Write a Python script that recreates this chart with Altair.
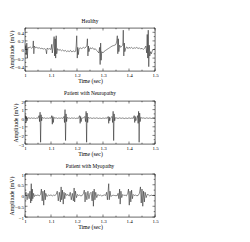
import altair as alt
import pandas as pd

# ---------------- data ----------------
healthy_t = [1.000, 1.003, 1.005, 1.007, 1.009, 1.011, 1.015, 1.020, 1.025, 1.030,
             1.032, 1.034, 1.036, 1.040, 1.045, 1.050, 1.055, 1.060, 1.065, 1.070,
             1.075, 1.080, 1.083, 1.085, 1.090, 1.095, 1.100, 1.103, 1.105, 1.108,
             1.112, 1.114, 1.116, 1.118, 1.120, 1.122, 1.125, 1.130, 1.135, 1.140,
             1.145, 1.150, 1.155, 1.160, 1.165, 1.170, 1.175, 1.180, 1.185, 1.190,
             1.195, 1.197, 1.199, 1.201, 1.203, 1.205, 1.208, 1.212, 1.218, 1.225,
             1.230, 1.235, 1.238, 1.240, 1.242, 1.244, 1.246, 1.250, 1.255, 1.260,
             1.265, 1.270, 1.275, 1.280, 1.284, 1.287, 1.289, 1.291, 1.293, 1.295,
             1.300, 1.305, 1.310, 1.315, 1.320, 1.325, 1.330, 1.335, 1.340, 1.345,
             1.350, 1.353, 1.355, 1.357, 1.359, 1.361, 1.364, 1.368, 1.372, 1.376,
             1.378, 1.380, 1.382, 1.384, 1.388, 1.392, 1.396, 1.400, 1.405, 1.410,
             1.415, 1.420, 1.425, 1.430, 1.435, 1.440, 1.445, 1.450, 1.455, 1.460,
             1.465, 1.468, 1.470, 1.472, 1.474, 1.476, 1.478, 1.480, 1.483, 1.486,
             1.490, 1.495, 1.500]
healthy_v = [0.00, 0.08, -0.12, 0.15, -0.20, 0.05, 0.04, 0.06, 0.03, 0.05,
             0.20, -0.10, 0.08, 0.04, 0.05, 0.03, 0.04, 0.02, 0.03, 0.01,
             0.02, 0.00, -0.10, 0.03, 0.01, 0.02, 0.00, 0.12, -0.08, 0.05,
             0.30, -0.15, 0.25, -0.20, 0.32, -0.10, 0.02, -0.02, 0.00, -0.03,
             -0.01, -0.04, -0.02, -0.05, -0.03, -0.05, -0.02, -0.06, -0.03, -0.05,
             -0.04, 0.10, 0.32, -0.20, 0.05, -0.12, 0.02, 0.04, 0.02, 0.05,
             0.03, 0.06, 0.10, 0.25, -0.15, 0.08, -0.05, 0.04, 0.02, 0.04,
             0.00, 0.02, -0.02, -0.05, -0.08, 0.05, -0.35, 0.15, -0.25, -0.05,
             -0.08, -0.04, -0.02, 0.00, 0.02, 0.04, 0.06, 0.08, 0.09, 0.10,
             0.12, 0.20, 0.32, -0.10, 0.25, -0.05, 0.10, 0.05, 0.08, 0.10,
             0.45, -0.15, 0.15, -0.05, 0.04, 0.06, 0.02, 0.05, 0.03, 0.05,
             0.02, 0.04, 0.03, 0.05, 0.02, 0.04, 0.01, 0.03, 0.00, 0.03,
             0.08, -0.08, 0.35, -0.20, 0.45, -0.40, 0.10, -0.15, -0.05, -0.10,
             -0.02, 0.00, 0.01]

neuro_t = [1.000, 1.002, 1.004, 1.006, 1.008, 1.010, 1.015, 1.020, 1.025, 1.030,
           1.035, 1.040, 1.045, 1.050, 1.054, 1.056, 1.058, 1.060, 1.062, 1.064,
           1.066, 1.070, 1.075, 1.080, 1.085, 1.090, 1.095, 1.100, 1.103, 1.105,
           1.107, 1.109, 1.111, 1.115, 1.120, 1.125, 1.130, 1.135, 1.140, 1.145,
           1.150, 1.152, 1.154, 1.156, 1.158, 1.160, 1.162, 1.166, 1.170, 1.175,
           1.180, 1.185, 1.190, 1.195, 1.200, 1.205, 1.210, 1.212, 1.214, 1.216,
           1.218, 1.225, 1.230, 1.233, 1.235, 1.237, 1.239, 1.241, 1.243, 1.247,
           1.252, 1.258, 1.264, 1.270, 1.276, 1.282, 1.288, 1.294, 1.300, 1.306,
           1.312, 1.316, 1.320, 1.322, 1.324, 1.326, 1.328, 1.335, 1.337, 1.339,
           1.341, 1.343, 1.345, 1.347, 1.352, 1.358, 1.364, 1.370, 1.376, 1.382,
           1.388, 1.394, 1.400, 1.406, 1.412, 1.416, 1.420, 1.422, 1.424, 1.426,
           1.430, 1.433, 1.435, 1.437, 1.439, 1.441, 1.443, 1.445, 1.450, 1.456,
           1.462, 1.468, 1.474, 1.480, 1.486, 1.492, 1.500]
neuro_v = [0.00, 0.30, -0.50, 0.20, -0.30, 0.00, 0.05, -0.03, 0.04, -0.02,
           0.03, -0.04, 0.02, 0.00, 0.30, -0.40, 0.70, -2.80, 0.40, -0.30,
           0.10, 0.00, 0.04, -0.03, 0.03, -0.02, 0.03, 0.00, 0.30, -0.70,
           0.20, -0.50, 0.10, 0.00, 0.04, -0.03, 0.03, -0.02, 0.04, -0.03,
           0.20, -0.50, 1.00, -2.60, 0.50, -0.40, 0.10, 0.00, 0.03, -0.03,
           0.04, -0.02, 0.03, -0.04, 0.02, -0.03, 0.30, -0.60, 0.20, -0.40,
           0.00, 0.03, 0.20, -0.40, 0.80, -2.80, 0.60, -0.50, 0.10, 0.00,
           0.04, -0.03, 0.03, -0.02, 0.04, -0.03, 0.02, -0.04, 0.03, -0.02,
           0.04, -0.03, 0.20, -0.60, 0.15, -0.30, 0.00, 0.20, -0.50, 0.80,
           -2.60, 0.50, -0.30, 0.05, 0.03, -0.03, 0.04, -0.02, 0.03, -0.04,
           0.02, -0.03, 0.04, -0.02, 0.03, -0.03, 0.30, -0.50, 0.20, -0.30,
           0.00, 0.30, -0.60, 0.80, -2.80, 0.60, -0.40, 0.10, 0.00, 0.03,
           -0.03, 0.04, -0.02, 0.03, -0.03, 0.02, 0.00]

myo_t = [1.000, 1.004, 1.008, 1.012, 1.016, 1.019, 1.022, 1.024, 1.026, 1.028,
         1.030, 1.033, 1.036, 1.040, 1.045, 1.050, 1.055, 1.060, 1.063, 1.066,
         1.069, 1.072, 1.075, 1.078, 1.080, 1.084, 1.090, 1.095, 1.100, 1.105,
         1.110, 1.115, 1.120, 1.124, 1.128, 1.132, 1.136, 1.139, 1.141, 1.144,
         1.147, 1.150, 1.153, 1.156, 1.160, 1.165, 1.170, 1.174, 1.178, 1.182,
         1.186, 1.189, 1.191, 1.194, 1.198, 1.202, 1.206, 1.210, 1.215, 1.220,
         1.225, 1.228, 1.231, 1.234, 1.238, 1.242, 1.246, 1.250, 1.254, 1.258,
         1.261, 1.263, 1.266, 1.269, 1.272, 1.276, 1.280, 1.285, 1.290, 1.295,
         1.300, 1.305, 1.310, 1.314, 1.317, 1.320, 1.322, 1.324, 1.327, 1.330,
         1.335, 1.340, 1.345, 1.350, 1.355, 1.358, 1.361, 1.364, 1.366, 1.369,
         1.372, 1.376, 1.380, 1.385, 1.390, 1.395, 1.398, 1.401, 1.404, 1.407,
         1.410, 1.413, 1.416, 1.420, 1.425, 1.430, 1.435, 1.440, 1.444, 1.447,
         1.450, 1.453, 1.456, 1.459, 1.462, 1.466, 1.470, 1.475, 1.480, 1.485,
         1.490, 1.495, 1.500]
myo_v = [0.00, 0.15, -0.20, 0.10, -0.15, 0.20, -0.35, 0.55, -0.25, 0.30,
         -0.15, 0.10, -0.05, 0.02, 0.00, 0.03, -0.02, 0.05, 0.30, -0.25,
         0.20, -0.45, 0.25, -0.20, 0.10, -0.05, 0.02, 0.00, 0.03, -0.02,
         0.02, 0.00, 0.05, 0.20, -0.25, 0.15, -0.30, 0.40, -0.20, 0.25,
         -0.40, 0.15, -0.15, 0.10, 0.00, 0.05, -0.03, 0.15, -0.20, 0.10,
         -0.25, 0.35, -0.30, 0.20, -0.10, 0.05, 0.00, 0.02, -0.02, 0.00,
         0.10, 0.25, -0.30, 0.15, -0.20, 0.20, -0.15, 0.10, 0.15, -0.25,
         0.20, -0.50, 0.30, -0.20, 0.15, -0.10, 0.05, 0.00, 0.02, -0.02,
         0.00, 0.03, 0.00, 0.15, -0.20, 0.25, 0.55, -0.20, 0.20, -0.05,
         0.00, 0.01, 0.00, -0.01, 0.00, 0.10, -0.15, 0.30, -0.40, 0.20,
         -0.10, 0.05, 0.00, 0.02, -0.02, 0.10, 0.30, -0.45, 0.20, -0.30,
         0.25, -0.15, 0.05, 0.00, 0.02, -0.01, 0.00, 0.10, 0.40, -0.35,
         0.30, -0.50, 0.20, -0.30, 0.15, -0.10, 0.05, 0.03, -0.02, 0.02,
         0.00, 0.01, 0.00]

titles = ["Healthy", "Patient with Neuropathy", "Patient with Myopathy"]
y_domains = [[-0.5, 0.5], [-3, 2], [-1, 1]]
y_ticks = [[-0.4, -0.2, 0, 0.2, 0.4], [-3, -2, -1, 0, 1, 2], [-1, -0.5, 0, 0.5, 1]]
y_minor = [[-0.5, -0.3, -0.1, 0.1, 0.3, 0.5], [-2.5, -1.5, -0.5, 0.5, 1.5],
           [-0.75, -0.25, 0.25, 0.75]]
x_ticks = [1.0, 1.1, 1.2, 1.3, 1.4, 1.5]
x_minor = [1.05, 1.15, 1.25, 1.35, 1.45]

W, H = 130, 43
series = [(healthy_t, healthy_v), (neuro_t, neuro_v), (myo_t, myo_v)]

panels = []
for i, (ts, vs) in enumerate(series):
    df = pd.DataFrame({"t": ts, "v": vs})
    xs = alt.Scale(domain=[1.0, 1.5], nice=False, zero=False)
    ys = alt.Scale(domain=y_domains[i], nice=False, zero=False)
    xax = alt.Axis(values=x_ticks, format="~g", ticks=False, grid=False,
                   domain=False, labelOverlap=False, labelFlush=False)
    yax = alt.Axis(values=y_ticks[i], format="~g", ticks=False, grid=False,
                   domain=False, labelOverlap=False, labelFlush=False)
    line = alt.Chart(df).mark_line(color="black", strokeWidth=0.45, clip=True).encode(
        x=alt.X("t:Q", scale=xs, title="Time (sec)", axis=xax),
        y=alt.Y("v:Q", scale=ys, title="Amplitude (mV)", axis=yax),
    )
    xt = pd.DataFrame({"t": x_ticks})
    xm = pd.DataFrame({"t": x_minor})
    yt = pd.DataFrame({"v": y_ticks[i]})
    ym = pd.DataFrame({"v": y_minor[i]})
    tick_layers = []
    for d, ln in ((xt, 2.5), (xm, 1.3)):
        for y0, y1 in ((0, ln), (H, H - ln)):
            tick_layers.append(alt.Chart(d).mark_rule(color="black", strokeWidth=0.5).encode(
                x=alt.X("t:Q", scale=xs, title="Time (sec)", axis=xax),
                y=alt.value(y0), y2=alt.value(y1)))
    for d, ln in ((yt, 2.5), (ym, 1.3)):
        for x0, x1 in ((0, ln), (W, W - ln)):
            tick_layers.append(alt.Chart(d).mark_rule(color="black", strokeWidth=0.5).encode(
                y=alt.Y("v:Q", scale=ys, title="Amplitude (mV)", axis=yax),
                x=alt.value(x0), x2=alt.value(x1)))
    panel = alt.layer(line, *tick_layers).properties(
        width=W, height=H,
        title=alt.TitleParams(titles[i], fontSize=5.3, fontWeight="normal", offset=3,
                              font="Liberation Serif", color="black"))
    panels.append(panel)

chart = alt.vconcat(*panels, spacing=6).properties(
    padding={"left": 8, "top": 19, "right": 0, "bottom": 0}
).configure_view(stroke="black", strokeWidth=0.6).configure_axis(
    labelFont="Liberation Serif", titleFont="Liberation Serif",
    labelFontSize=5, titleFontSize=5.8, labelPadding=1.5, titlePadding=0,
    titleFontWeight="normal", labelColor="black", titleColor="black"
).configure_concat(spacing=6)

chart.save("out.html", embed_options={"renderer": "svg", "actions": False})
